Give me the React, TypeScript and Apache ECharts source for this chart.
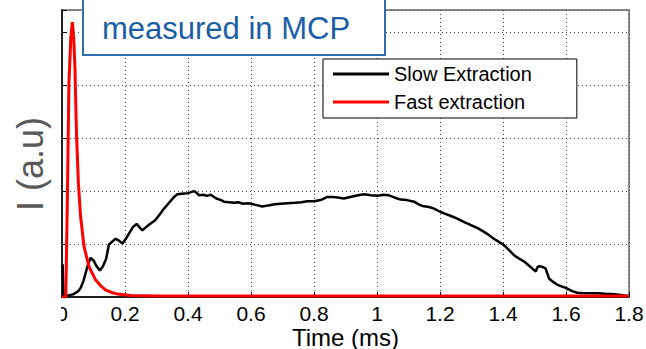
import React, { useEffect, useRef } from "react";
import * as echarts from "echarts";

const xTickLabels = ["0", "0.2", "0.4", "0.6", "0.8", "1", "1.2", "1.4", "1.6", "1.8"];

const slowTime = [
  0.002, 0.005, 0.02, 0.035, 0.05, 0.059, 0.068, 0.075, 0.083, 0.091, 0.1, 0.11, 0.12, 0.13, 0.14,
  0.149, 0.16, 0.17, 0.18, 0.192, 0.205, 0.215, 0.225, 0.237, 0.247, 0.255, 0.265, 0.275, 0.287,
  0.297, 0.31, 0.324, 0.34, 0.356, 0.366, 0.38, 0.398, 0.41, 0.419, 0.427, 0.435, 0.45, 0.46, 0.472,
  0.49, 0.505, 0.514, 0.53, 0.546, 0.56, 0.575, 0.59, 0.599, 0.615, 0.636, 0.655, 0.675, 0.694,
  0.715, 0.74, 0.76, 0.779, 0.8, 0.821, 0.843, 0.86, 0.875, 0.895, 0.915, 0.94, 0.959, 0.98, 1.001,
  1.02, 1.038, 1.055, 1.075, 1.095, 1.118, 1.132, 1.144, 1.165, 1.181, 1.2, 1.213, 1.235, 1.255,
  1.275, 1.297, 1.32, 1.34, 1.355, 1.371, 1.387, 1.403, 1.42, 1.435, 1.45, 1.467, 1.485, 1.504,
  1.509, 1.514, 1.525, 1.535, 1.542, 1.546, 1.56, 1.573, 1.59, 1.604, 1.62, 1.636, 1.66, 1.68, 1.7,
  1.725, 1.753, 1.775, 1.795,
];
const slowIntensity = [
  0.62, 0.03, 0.03, 0.05, 0.1, 0.17, 0.3, 0.45, 0.62, 0.74, 0.69, 0.58, 0.5, 0.58, 0.72,
  0.99, 1.05, 1.1, 1.07, 1.01, 1.12, 1.22, 1.32, 1.38, 1.31, 1.26, 1.31, 1.36, 1.41,
  1.46, 1.56, 1.67, 1.78, 1.89, 1.94, 1.95, 1.96, 1.98, 2.0, 1.97, 1.92, 1.93, 1.91, 1.93,
  1.86, 1.83, 1.8, 1.79, 1.78, 1.79, 1.76, 1.77, 1.76, 1.74, 1.71, 1.73, 1.75, 1.76,
  1.77, 1.78, 1.79, 1.81, 1.81, 1.83, 1.89, 1.89, 1.88, 1.86, 1.89, 1.92, 1.94, 1.92, 1.91,
  1.93, 1.92, 1.88, 1.84, 1.83, 1.8, 1.75, 1.72, 1.7, 1.67, 1.61, 1.58, 1.53, 1.48,
  1.42, 1.36, 1.3, 1.23, 1.17, 1.1, 1.04, 0.98, 0.88, 0.79, 0.73, 0.67, 0.58, 0.48,
  0.56, 0.58, 0.57, 0.54, 0.42, 0.35, 0.28, 0.23, 0.19, 0.16, 0.11, 0.08, 0.07, 0.07, 0.07,
  0.06, 0.05, 0.04, 0.02,
];

const fastTime = [
  0.0, 0.012, 0.017, 0.022, 0.028, 0.033, 0.037, 0.041, 0.046, 0.052, 0.059, 0.07, 0.086, 0.107,
  0.125, 0.139, 0.16, 0.181, 0.22, 0.3, 1.8,
];
const fastIntensity = [
  0.0, 0.0, 1.83, 4.04, 4.9, 5.19, 4.9, 4.35, 3.09, 2.15, 1.52, 0.95, 0.57, 0.32,
  0.2, 0.13, 0.08, 0.05, 0.03, 0.02, 0.02,
];

const seriesNames = ["Slow Extraction", "Fast extraction"];
const calloutLines = ["Slow extraction", "measured in MCP"];
const xAxisTitle = "Time (ms)";
const yAxisTitle = "I (a.u)";

const FONT = "Liberation Sans, Arial, sans-serif";

export default function App() {
  const ref = useRef<HTMLDivElement>(null);
  useEffect(() => {
    if (!ref.current) return;
    const chart = echarts.init(ref.current, undefined, {
      renderer: "svg",
      width: 646,
      height: 349,
    });
    const slow = slowTime.map((t, i) => [t, slowIntensity[i]]);
    const fast = fastTime.map((t, i) => [t, fastIntensity[i]]);
    chart.setOption({
      animation: false,
      backgroundColor: "#ffffff",
      textStyle: { fontFamily: FONT },
      grid: {
        left: 62,
        right: 17,
        top: 10,
        bottom: 52,
        show: true,
        borderColor: "#8c8c8c",
        borderWidth: 2,
        containLabel: false,
        outerBoundsMode: "none",
      },
      legend: {
        orient: "vertical",
        left: 323,
        top: 59,
        data: seriesNames,
        icon: "rect",
        itemWidth: 56,
        itemHeight: 3,
        itemGap: 8,
        padding: [5, 45, 6, 10],
        borderColor: "#000",
        borderWidth: 1,
        backgroundColor: "#fff",
        textStyle: { fontSize: 20, lineHeight: 20, color: "#000", fontFamily: FONT },
      },
      xAxis: {
        type: "value",
        min: 0,
        max: 1.8,
        interval: 0.2,
        name: xAxisTitle,
        nameLocation: "middle",
        nameGap: 28,
        nameMoveOverlap: false,
        nameTextStyle: { fontSize: 24, lineHeight: 24, color: "#000", fontFamily: FONT },
        axisLine: { show: true, lineStyle: { color: "#000", width: 1.5 } },
        axisTick: { show: true, inside: true, length: 5, lineStyle: { color: "#000" } },
        axisLabel: {
          fontSize: 21,
          lineHeight: 21,
          color: "#000",
          margin: 6,
          fontFamily: FONT,
          formatter: (v: number) => xTickLabels[Math.round(v / 0.2)] ?? "",
        },
        splitLine: { show: true, lineStyle: { color: "#444", type: [1, 3], width: 1 } },
      },
      yAxis: {
        type: "value",
        min: 0,
        max: 5.42,
        interval: 1,
        axisLine: { show: true, lineStyle: { color: "#000", width: 1.5 } },
        axisTick: { show: true, inside: true, length: 5, lineStyle: { color: "#000" } },
        axisLabel: { show: false },
        splitLine: { show: true, lineStyle: { color: "#444", type: [1, 3], width: 1 } },
      },
      series: [
        {
          name: seriesNames[0],
          type: "line",
          data: slow,
          showSymbol: false,
          symbol: "none",
          itemStyle: { color: "#000" },
          lineStyle: { color: "#000", width: 2.5 },
          z: 2,
        },
        {
          name: seriesNames[1],
          type: "line",
          data: fast,
          showSymbol: false,
          symbol: "none",
          itemStyle: { color: "#ff0000" },
          lineStyle: { color: "#ff0000", width: 3 },
          z: 3,
        },
      ],
      graphic: [
        {
          type: "rect",
          z: 100,
          shape: { x: 0, y: 300, width: 61, height: 28 },
          style: { fill: "#fff" },
        },
        {
          type: "rect",
          z: 100,
          shape: { x: 83, y: -10, width: 302, height: 65 },
          style: { fill: "#fff", stroke: "#2e6db0", lineWidth: 2 },
        },
        {
          type: "text",
          z: 101,
          x: 102,
          y: -11,
          style: {
            text: calloutLines[0],
            fontSize: 31,
            fontFamily: FONT,
            fill: "#1b5ea6",
            align: "left",
            verticalAlign: "middle",
          },
        },
        {
          type: "text",
          z: 101,
          x: 102,
          y: 28.5,
          style: {
            text: calloutLines[1],
            fontSize: 31,
            fontFamily: FONT,
            fill: "#1b5ea6",
            align: "left",
            verticalAlign: "middle",
          },
        },
        {
          type: "text",
          z: 101,
          x: 30,
          y: 164,
          rotation: Math.PI / 2,
          style: {
            text: yAxisTitle,
            fontSize: 36,
            fontFamily: FONT,
            fill: "#595959",
            align: "center",
            verticalAlign: "middle",
          },
        },
      ],
    });
    return () => chart.dispose();
  }, []);
  return (
    <div
      ref={ref}
      style={{ position: "fixed", left: 0, top: 0, width: 646, height: 349 }}
    />
  );
}
